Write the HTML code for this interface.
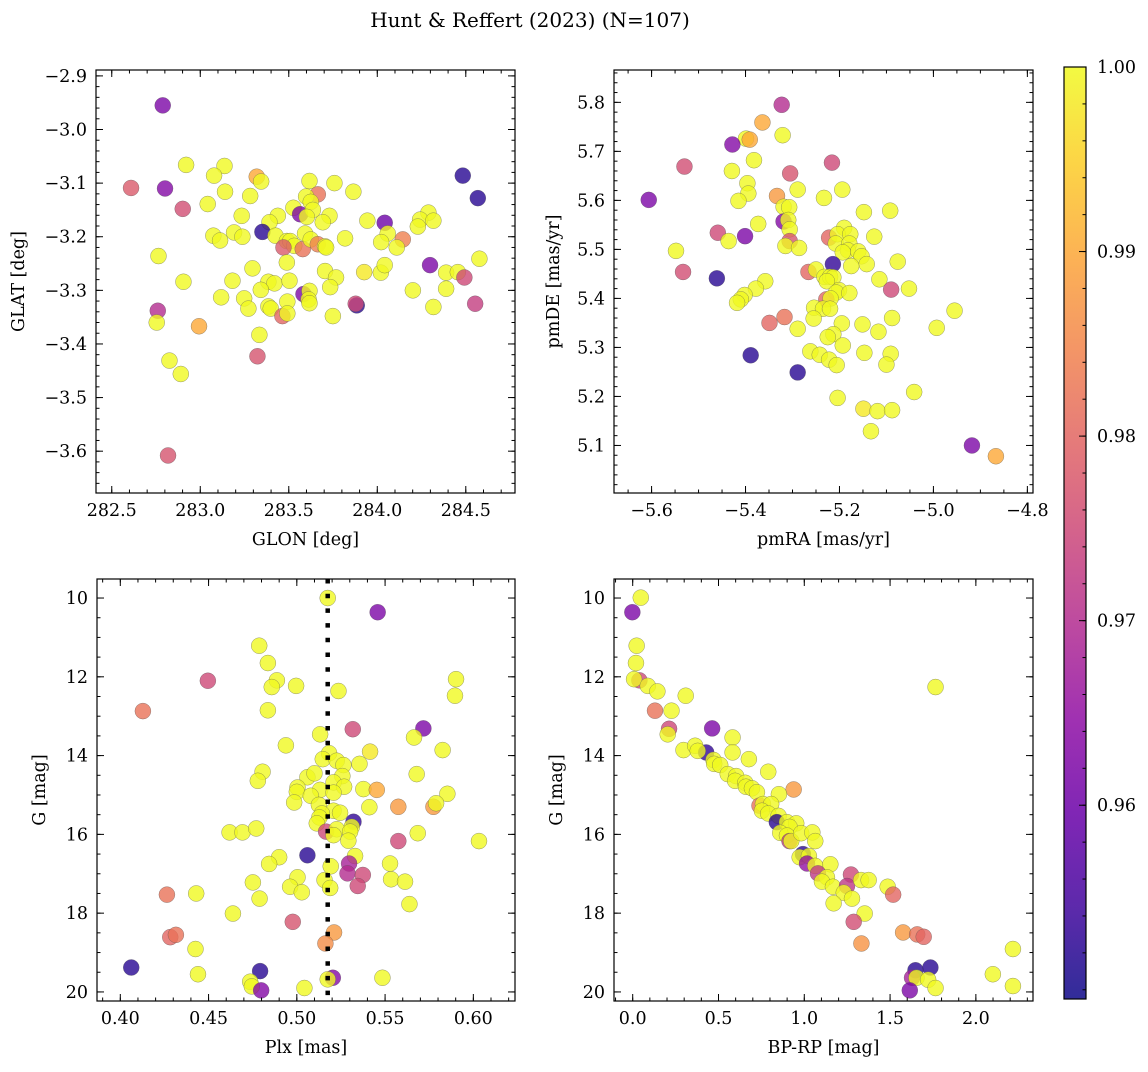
<!DOCTYPE html>
<html><head><meta charset="utf-8"><style>
html,body{margin:0;padding:0;background:#fff;}
svg text{font-family:"DejaVu Serif","Liberation Serif",serif;fill:#000;}
</style></head><body>
<svg id="fig" width="1148" height="1067" viewBox="0 0 1148 1067" xmlns="http://www.w3.org/2000/svg">
<rect width="1148" height="1067" fill="#fff"/>
<text x="530" y="27" font-size="20" text-anchor="middle">Hunt &amp; Reffert (2023) (N=107)</text>
<defs><linearGradient id="plasma" x1="0" y1="1" x2="0" y2="0">
<stop offset="0" stop-color="#0d0887"/><stop offset="0.1" stop-color="#41049d"/><stop offset="0.2" stop-color="#6a00a8"/><stop offset="0.3" stop-color="#8f0da4"/><stop offset="0.4" stop-color="#b12a90"/><stop offset="0.5" stop-color="#cc4778"/><stop offset="0.6" stop-color="#e16462"/><stop offset="0.7" stop-color="#f2844b"/><stop offset="0.8" stop-color="#fca636"/><stop offset="0.9" stop-color="#fcce25"/><stop offset="1" stop-color="#f0f921"/>
</linearGradient></defs>
</svg>
<script>
// Panel 1: GLON vs GLAT
const p1Glon=[282.788,282.920,283.137,283.078,283.319,283.344,282.609,282.801,283.140,283.282,283.617,283.758,283.865,283.664,283.598,283.624,282.901,283.042,283.526,283.564,283.636,283.602,283.234,283.438,283.730,283.692,283.391,283.944,284.042,284.483,284.568,284.289,284.242,284.317,284.229,283.351,283.074,283.112,283.191,283.238,283.425,283.489,283.508,283.531,283.470,283.579,283.592,283.624,283.664,283.705,283.711,283.818,284.059,284.022,284.144,284.110,282.764,284.577,284.298,283.489,283.295,283.705,283.767,283.926,284.020,284.042,284.389,284.455,284.492,282.905,283.182,283.385,283.419,283.504,283.342,283.734,284.389,284.201,283.583,283.617,283.612,283.617,283.118,283.248,283.272,283.385,283.398,283.492,283.464,283.492,283.749,283.884,283.878,284.317,284.553,282.760,282.754,282.993,283.334,283.323,282.826,282.890,282.818];
const p1Glat=[-2.955,-3.066,-3.068,-3.086,-3.088,-3.097,-3.109,-3.110,-3.116,-3.124,-3.096,-3.100,-3.116,-3.121,-3.125,-3.135,-3.148,-3.139,-3.146,-3.158,-3.150,-3.163,-3.161,-3.161,-3.161,-3.173,-3.173,-3.170,-3.174,-3.086,-3.128,-3.155,-3.168,-3.170,-3.181,-3.191,-3.198,-3.207,-3.192,-3.200,-3.198,-3.208,-3.208,-3.217,-3.220,-3.223,-3.194,-3.205,-3.214,-3.218,-3.220,-3.203,-3.194,-3.210,-3.205,-3.220,-3.236,-3.241,-3.253,-3.248,-3.259,-3.264,-3.276,-3.266,-3.267,-3.253,-3.267,-3.266,-3.276,-3.284,-3.282,-3.284,-3.287,-3.282,-3.299,-3.294,-3.297,-3.300,-3.307,-3.301,-3.317,-3.324,-3.313,-3.315,-3.334,-3.330,-3.334,-3.321,-3.348,-3.343,-3.348,-3.328,-3.325,-3.331,-3.325,-3.338,-3.360,-3.367,-3.383,-3.423,-3.431,-3.456,-3.608];
const p1Prob=[0.962,1,1,1,0.99,1,0.978,0.963,1,1,1,1,1,0.982,1,1,0.976,1,1,0.962,1,1,1,1,1,1,1,1,0.96,0.952,0.952,1,1,1,1,0.952,1,1,1,1,1,1,1,1,0.978,0.982,1,1,0.984,1,1,1,1,1,0.984,1,1,1,0.962,1,1,1,1,0.998,1,1,1,1,0.975,1,1,1,1,1,1,1,1,1,0.962,1,1,1,1,1,1,1,1,1,0.98,1,1,0.952,0.975,1,0.973,0.97,1,0.99,1,0.977,1,1,0.977];
// Panel 2: pmRA vs pmDE
const p2Pmra=[-5.323,-5.364,-5.321,-5.399,-5.391,-5.428,-5.530,-5.382,-5.216,-5.429,-5.305,-5.396,-5.394,-5.415,-5.289,-5.194,-5.333,-5.233,-5.606,-5.319,-5.307,-5.148,-5.092,-5.319,-5.309,-5.306,-5.373,-5.190,-5.459,-5.401,-5.436,-5.306,-5.315,-5.286,-5.222,-5.204,-5.177,-5.126,-5.208,-5.179,-5.182,-5.193,-5.160,-5.153,-5.142,-5.175,-5.076,-5.548,-5.214,-5.533,-5.461,-5.266,-5.250,-5.232,-5.220,-5.213,-5.227,-5.358,-5.378,-5.402,-5.410,-5.418,-5.115,-5.090,-5.052,-5.201,-5.207,-5.179,-5.228,-5.219,-5.254,-5.235,-5.220,-4.955,-5.317,-5.349,-5.255,-5.289,-5.195,-5.151,-5.088,-5.117,-4.993,-5.213,-5.225,-5.193,-5.262,-5.242,-5.222,-5.206,-5.147,-5.091,-5.100,-5.389,-5.289,-5.204,-5.041,-5.149,-5.119,-5.088,-5.133,-4.918,-4.867];
const p2Pmde=[5.795,5.759,5.733,5.726,5.724,5.714,5.669,5.682,5.677,5.660,5.655,5.635,5.614,5.599,5.622,5.622,5.609,5.605,5.601,5.587,5.586,5.576,5.579,5.557,5.560,5.541,5.552,5.544,5.534,5.527,5.517,5.517,5.507,5.503,5.524,5.531,5.531,5.526,5.512,5.512,5.498,5.494,5.496,5.486,5.470,5.466,5.475,5.497,5.470,5.454,5.441,5.454,5.459,5.444,5.444,5.443,5.435,5.435,5.420,5.407,5.398,5.391,5.439,5.418,5.420,5.417,5.412,5.411,5.398,5.400,5.381,5.379,5.379,5.375,5.362,5.350,5.359,5.338,5.349,5.347,5.360,5.332,5.340,5.327,5.321,5.304,5.292,5.285,5.275,5.264,5.289,5.287,5.265,5.284,5.249,5.197,5.209,5.175,5.170,5.172,5.129,5.100,5.078];
const p2Prob=[0.97,0.99,1,1,0.99,0.963,0.976,1,0.975,1,0.977,1,1,1,1,1,0.988,1,0.962,1,1,1,1,0.963,1,1,1,1,0.975,0.962,1,0.977,1,1,0.98,1,1,1,1,1,1,1,1,1,1,1,1,1,0.953,0.976,0.952,0.98,1,1,1,1,1,1,1,1,1,1,1,0.975,1,1,1,1,0.98,1,1,1,1,1,0.982,0.98,1,1,1,1,1,1,1,1,1,1,1,1,1,1,1,1,1,0.952,0.952,1,1,0.998,1,1,1,0.962,0.99];
// Panel 3: Plx vs G
const p3Plx=[0.5175,0.5458,0.4787,0.4836,0.4496,0.4887,0.4858,0.4996,0.5236,0.5902,0.5896,0.4128,0.4836,0.5317,0.5717,0.5132,0.5664,0.4938,0.5826,0.5415,0.5183,0.5147,0.5226,0.5264,0.5355,0.4806,0.4779,0.5060,0.5100,0.5258,0.5208,0.5268,0.5679,0.5004,0.5000,0.5132,0.5208,0.5377,0.5453,0.5853,0.5079,0.4985,0.5125,0.5575,0.5774,0.5789,0.5411,0.5208,0.5245,0.5142,0.5128,0.5321,0.5113,0.5311,0.4619,0.4692,0.4770,0.5166,0.5226,0.5208,0.5302,0.5292,0.5575,0.5685,0.6032,0.5060,0.4900,0.4843,0.5330,0.5296,0.5192,0.5528,0.5287,0.5374,0.5345,0.4751,0.5004,0.4962,0.5028,0.5157,0.5189,0.5534,0.5613,0.5638,0.4264,0.4430,0.4789,0.4638,0.4977,0.4283,0.4315,0.5211,0.5162,0.4426,0.4062,0.4792,0.4440,0.5204,0.5175,0.5485,0.4736,0.4745,0.4798,0.5043];
const p3G=[10.00,10.36,11.21,11.65,12.10,12.09,12.26,12.23,12.36,12.06,12.48,12.87,12.85,13.33,13.31,13.46,13.54,13.74,13.86,13.90,13.94,14.09,14.13,14.24,14.21,14.41,14.64,14.55,14.45,14.52,14.68,14.79,14.47,14.81,14.92,14.87,14.94,14.85,14.87,14.97,15.02,15.19,15.25,15.30,15.30,15.21,15.31,15.40,15.45,15.47,15.57,15.68,15.72,15.81,15.95,15.95,15.85,15.93,15.87,16.02,15.93,16.16,16.17,15.97,16.17,16.53,16.58,16.75,16.55,16.74,16.81,16.74,16.99,17.03,17.31,17.22,17.09,17.33,17.47,17.16,17.36,17.14,17.20,17.77,17.53,17.50,17.63,18.01,18.22,18.61,18.55,18.49,18.77,18.91,19.38,19.47,19.55,19.64,19.68,19.64,19.74,19.86,19.96,19.90];
const p3Prob=[1,0.962,1,1,0.975,1,1,1,1,1,1,0.982,1,0.975,0.962,1,1,1,1,0.998,1,1,1,1,1,1,1,1,1,1,1,1,1,1,1,1,1,1,0.99,1,1,1,1,0.988,0.988,1,1,1,1,1,1,0.953,1,1,1,1,1,0.975,1,1,1,1,0.975,1,1,0.952,1,1,1,0.968,1,1,0.97,0.975,0.975,1,1,1,1,1,1,1,1,1,0.982,1,1,1,0.977,0.98,0.982,0.988,0.986,1,0.952,0.952,1,0.963,1,1,1,1,0.963,1];
const plxRef=[0.5175];
// Panel 4: BP-RP vs G
const p4Bprp=[0.047,-0.002,0.023,0.019,0.039,0.008,0.088,0.144,0.309,1.765,0.130,0.226,0.212,0.204,0.463,0.582,0.582,0.296,0.364,0.428,0.379,0.677,0.471,0.475,0.510,0.554,0.603,0.597,0.790,0.656,0.660,0.695,0.724,0.938,0.852,0.739,0.759,0.807,0.753,0.790,0.850,0.840,0.899,0.953,0.914,0.860,0.899,0.914,0.924,0.982,1.047,1.064,0.992,0.973,1.027,1.016,1.064,1.152,1.080,1.132,1.103,1.167,1.272,1.249,1.331,1.375,1.230,1.278,1.171,1.486,1.518,1.352,1.288,1.576,1.658,1.696,1.333,2.216,1.648,1.735,1.628,1.654,1.722,1.765,1.615,2.099,2.216];
const p4G=[9.99,10.36,11.21,11.65,12.09,12.06,12.23,12.37,12.48,12.26,12.86,12.86,13.32,13.46,13.31,13.54,13.92,13.86,13.75,13.92,13.88,14.09,14.11,14.21,14.24,14.47,14.52,14.64,14.41,14.69,14.79,14.83,14.93,14.86,14.98,15.27,15.23,15.23,15.40,15.47,15.53,15.69,15.69,15.72,15.81,15.96,16.03,16.17,16.17,15.97,15.95,16.17,16.50,16.58,16.55,16.74,16.80,16.76,16.99,17.09,17.20,17.33,17.02,17.31,17.16,17.16,17.48,17.63,17.75,17.33,17.53,18.01,18.22,18.49,18.54,18.60,18.77,18.91,19.45,19.38,19.64,19.64,19.69,19.90,19.96,19.55,19.85];
const p4Prob=[1,0.962,1,1,0.975,1,1,1,1,1,0.982,1,0.975,1,0.962,1,1,1,1,0.953,1,1,1,1,1,1,1,1,1,1,1,1,1,0.988,1,0.982,1,1,1,1,1,0.952,1,1,1,1,1,0.972,1,1,1,1,0.952,1,1,0.965,1,1,0.972,1,1,1,0.975,0.972,1,1,1,1,1,1,0.98,1,0.976,0.988,0.982,0.98,0.987,1,0.952,0.952,0.968,1,1,1,0.962,1,1];
// Ticks
const p1XTicks=[282.5,283.0,283.5,284.0,284.5];
const p1YTicks=[-3.6,-3.5,-3.4,-3.3,-3.2,-3.1,-3.0,-2.9];
const p2XTicks=[-5.6,-5.4,-5.2,-5.0,-4.8];
const p2YTicks=[5.1,5.2,5.3,5.4,5.5,5.6,5.7,5.8];
const p3XTicks=[0.40,0.45,0.50,0.55,0.60];
const gTicks=[10,12,14,16,18,20];
const p4XTicks=[0.0,0.5,1.0,1.5,2.0];
const cbTicks=[0.96,0.97,0.98,0.99,1.00];
const vmin=0.9495, vmax=1.0;

const NS='http://www.w3.org/2000/svg';
const svg=document.getElementById('fig');
const FS=17.5;
function mk(tag,attrs,parent){const e=document.createElementNS(NS,tag);for(const k in attrs)e.setAttribute(k,attrs[k]);(parent||svg).appendChild(e);return e;}
const stops=[[13,8,135],[65,4,157],[106,0,168],[143,13,164],[177,42,144],[204,71,120],[225,100,98],[242,132,75],[252,166,54],[252,206,37],[240,249,33]];
function plasma(p){let t=(p-vmin)/(vmax-vmin);t=Math.max(0,Math.min(1,t))*10;const i=Math.min(9,Math.floor(t)),f=t-i;const a=stops[i],b=stops[i+1];return 'rgb('+a.map((v,k)=>Math.round(v+(b[k]-v)*f)).join(',')+')';}
function fmt(v,d){return v.toFixed(d).replace('-','\u2212');}
function rng(lo,hi,step){const out=[];const s=Math.ceil(lo/step-1e-6),e=Math.floor(hi/step+1e-6);for(let k=s;k<=e;k++)out.push(k*step);return out;}

function panel(cfg){
  const g=mk('g',{});
  
  
  const L=cfg.L,R=cfg.R,T=cfg.T,B=cfg.B;
  const sx=v=>L+(v-cfg.x0)/(cfg.x1-cfg.x0)*(R-L);
  const sy=cfg.inv?(v=>T+(v-cfg.y0)/(cfg.y1-cfg.y0)*(B-T)):(v=>B-(v-cfg.y0)/(cfg.y1-cfg.y0)*(B-T));
  const pg=mk('g',{},g);
  
  
  for(let i=0;i<cfg.xs.length;i++){
    const c=mk('circle',{cx:sx(cfg.xs[i]),cy:sy(cfg.ys[i]),r:8,fill:plasma(cfg.ps[i]),'fill-opacity':0.8,stroke:'#555','stroke-opacity':0.6,'stroke-width':0.5},pg);
    
    
  }
  if(cfg.vline){for(const v of cfg.vline){const ln=mk('line',{x1:sx(v),x2:sx(v),y1:T,y2:B,stroke:'#000','stroke-width':4.5,'stroke-dasharray':'4.5 10.2'},g);
    
    }}
  const fr=mk('rect',{x:L,y:T,width:R-L,height:B-T,fill:'none',stroke:'#000','stroke-width':1.2},g);
  
  
  const tk=mk('g',{stroke:'#000','stroke-width':1},g);
  
  
  for(const v of rng(cfg.x0,cfg.x1,cfg.xmin)){const x=sx(v);mk('line',{x1:x,x2:x,y1:B,y2:B-3.5},tk);mk('line',{x1:x,x2:x,y1:T,y2:T+3.5},tk);}
  for(const v of rng(cfg.y0,cfg.y1,cfg.ymin)){const y=sy(v);mk('line',{x1:L,x2:L+3.5,y1:y,y2:y},tk);mk('line',{x1:R,x2:R-3.5,y1:y,y2:y},tk);}
  for(const v of cfg.xt){const x=sx(v);mk('line',{x1:x,x2:x,y1:B,y2:B-7},tk);mk('line',{x1:x,x2:x,y1:T,y2:T+7},tk);
    const t=mk('text',{x:x,y:B+23,'font-size':FS,'text-anchor':'middle'},g);t.textContent=fmt(v,cfg.xd);
    
    }
  for(const v of cfg.yt){const y=sy(v);mk('line',{x1:L,x2:L+7,y1:y,y2:y},tk);mk('line',{x1:R,x2:R-7,y1:y,y2:y},tk);
    const t=mk('text',{x:L-9,y:y+6,'font-size':FS,'text-anchor':'end'},g);t.textContent=fmt(v,cfg.yd);
    
    }
  const xl=mk('text',{x:(L+R)/2,y:B+52,'font-size':FS,'text-anchor':'middle'},g);xl.textContent=cfg.xlab;
  
  
  const yx=cfg.ylx,yy=(T+B)/2;
  const yl=mk('text',{x:yx,y:yy,'font-size':FS,'text-anchor':'middle',transform:'rotate(-90 '+yx+' '+yy+')'},g);yl.textContent=cfg.ylab;
  
  
}
panel({name:'glon-glat-panel',L:96,R:515,T:70,B:493,x0:282.411,x1:284.778,y0:-3.678,y1:-2.889,inv:false,xs:p1Glon,ys:p1Glat,ps:p1Prob,xt:p1XTicks,yt:p1YTicks,xd:1,yd:1,xmin:0.1,ymin:0.02,xlab:'GLON [deg]',ylab:'GLAT [deg]',ylx:24});
panel({name:'proper-motion-panel',L:614,R:1033,T:70,B:493,x0:-5.680,x1:-4.788,y0:5.003,y1:5.866,inv:false,xs:p2Pmra,ys:p2Pmde,ps:p2Prob,xt:p2XTicks,yt:p2YTicks,xd:1,yd:1,xmin:0.05,ymin:0.02,xlab:'pmRA [mas/yr]',ylab:'pmDE [mas/yr]',ylx:559});
panel({name:'parallax-mag-panel',L:97,R:515,T:579,B:1001,x0:0.3868,x1:0.6236,y0:9.517,y1:20.23,inv:true,xs:p3Plx,ys:p3G,ps:p3Prob,xt:p3XTicks,yt:gTicks,xd:2,yd:0,xmin:0.01,ymin:0.5,xlab:'Plx [mas]',ylab:'G [mag]',ylx:45,vline:plxRef});
panel({name:'color-mag-panel',L:614,R:1033,T:579,B:1001,x0:-0.109,x1:2.333,y0:9.517,y1:20.23,inv:true,xs:p4Bprp,ys:p4G,ps:p4Prob,xt:p4XTicks,yt:gTicks,xd:1,yd:0,xmin:0.1,ymin:0.5,xlab:'BP-RP [mag]',ylab:'G [mag]',ylx:562});
const cb=mk('g',{});


const cT=67,cB=999,cL=1064,cR=1086;
const cy=v=>cB-(v-vmin)/(vmax-vmin)*(cB-cT);
mk('rect',{x:cL,y:cT,width:cR-cL,height:cB-cT,fill:'url(#plasma)','fill-opacity':0.85},cb);
mk('rect',{x:cL,y:cT,width:cR-cL,height:cB-cT,fill:'none',stroke:'#000','stroke-width':1.2},cb);
for(const v of rng(vmin,vmax,0.002)){const y=cy(v);mk('line',{x1:cR,x2:cR-3.5,y1:y,y2:y,stroke:'#000'},cb);}
for(const v of cbTicks){const y=cy(v);mk('line',{x1:cR,x2:cR-7,y1:y,y2:y,stroke:'#000'},cb);
  const t=mk('text',{x:cR+11,y:y+6,'font-size':FS},cb);t.textContent=v.toFixed(2);
  
  }
</script>
</body></html>
